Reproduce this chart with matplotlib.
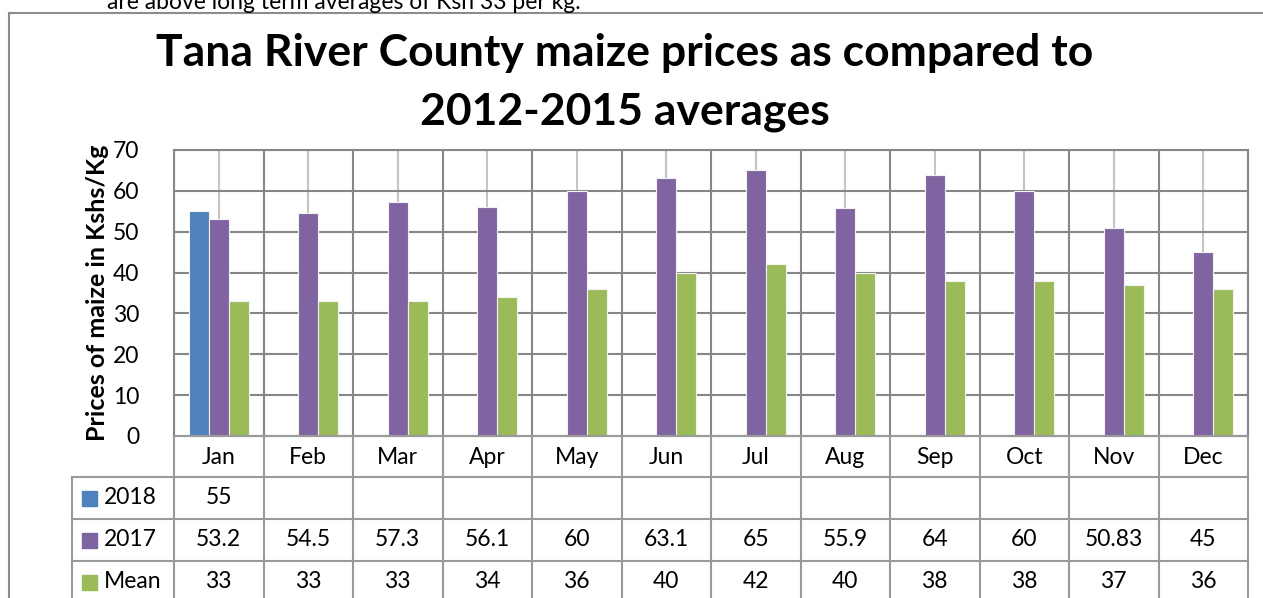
import numpy as np
import matplotlib
matplotlib.use("Agg")
import matplotlib.pyplot as plt
from matplotlib.lines import Line2D
from matplotlib.patches import Rectangle
from matplotlib.transforms import blended_transform_factory

months = ['Jan', 'Feb', 'Mar', 'Apr', 'May', 'Jun', 'Jul', 'Aug', 'Sep', 'Oct', 'Nov', 'Dec']
prices_2018 = [55, None, None, None, None, None, None, None, None, None, None, None]
prices_2017 = [53.2, 54.5, 57.3, 56.1, 60, 63.1, 65, 55.9, 64, 60, 50.83, 45]
prices_mean = [33, 33, 33, 34, 36, 40, 42, 40, 38, 38, 37, 36]
series_names = ['2018', '2017', 'Mean']
colors = ['#4F81BD', '#8064A2', '#9BBB59']

W, H = 1263, 598
plt.rcParams['font.family'] = ['Lato', 'DejaVu Sans']

fig = plt.figure(figsize=(W / 100, H / 100), dpi=100)

def fx(px):
    return px / W

def fy(py):
    return 1 - py / H

# plot area in pixels
left, right, top, bottom = 174, 1248, 150, 436
ax = fig.add_axes([fx(left), fy(bottom), fx(right - left), (bottom - top) / H])

x = np.arange(len(months))
bw = 0.223
series = [prices_2018, prices_2017, prices_mean]
for k, vals in enumerate(series):
    v = np.array([np.nan if a is None else a for a in vals], dtype=float)
    ax.bar(x + (k - 1) * bw, v, width=bw, color=colors[k], edgecolor='#f2f2f2',
           linewidth=0.8, zorder=3)

ax.set_xlim(-0.5, len(months) - 0.5)
ax.set_ylim(0, 70)
ax.set_yticks(range(0, 71, 10))
ax.set_xticks([])
ax.tick_params(axis='y', length=0, pad=25, labelsize=16.5)
for lab in ax.get_yticklabels():
    lab.set_horizontalalignment('right')

grid_dark = '#878787'
grid_light = '#c4c4c4'
for yv in range(10, 71, 10):
    ax.axhline(yv, color=grid_dark, lw=1.5, zorder=1)
for i in range(len(months) + 1):
    ax.axvline(i - 0.5, color=grid_dark, lw=1.5, zorder=1)
for i in range(len(months)):
    ax.axvline(i, color=grid_light, lw=1.5, zorder=0.5)
for s in ax.spines.values():
    s.set_color(grid_dark)
    s.set_linewidth(1.5)

ax.set_ylabel('Prices of maize in Kshs/Kg', fontsize=18, fontweight='bold', labelpad=3)

# data table below the plot
tr = blended_transform_factory(ax.transData, fig.transFigure)
row_edges = [436, 477, 519, 561, 603]
tbl_left = 72
line_kw = dict(color='#9a9a9a', lw=1.5, transform=fig.transFigure, clip_on=False)

# horizontal lines
fig.add_artist(Line2D([fx(left), fx(right)], [fy(row_edges[0])] * 2, **line_kw))
for r in row_edges[1:4]:
    fig.add_artist(Line2D([fx(tbl_left), fx(right)], [fy(r)] * 2, **line_kw))
# vertical lines
fig.add_artist(Line2D([fx(tbl_left)] * 2, [fy(row_edges[1]), 0], **line_kw))
for i in range(len(months) + 1):
    xp = left + i * (right - left) / len(months)
    fig.add_artist(Line2D([fx(xp)] * 2, [fy(row_edges[0]), 0], **line_kw))

fs = 16.5
for i, m in enumerate(months):
    fig.text(i, fy((row_edges[0] + row_edges[1]) / 2 + 1), m, transform=tr,
             ha='center', va='center', fontsize=fs)

def fmt(v):
    if v is None:
        return ''
    return ('%g' % v)

for k, vals in enumerate(series):
    yc = fy((row_edges[k + 1] + row_edges[k + 2]) / 2)
    fig.add_artist(Rectangle((fx(82), yc - 7.5 / H), 15 / W, 15 / H,
                             transform=fig.transFigure, color=colors[k]))
    fig.text(fx(104), yc, series_names[k], ha='left', va='center', fontsize=fs)
    for i, v in enumerate(vals):
        fig.text(i, yc, fmt(v), transform=tr, ha='center', va='center', fontsize=fs)

# title
fig.text(fx(625), fy(53), 'Tana River County maize prices as compared to',
         ha='center', va='center', fontsize=32, fontweight='bold')
fig.text(fx(625), fy(112), '2012-2015 averages',
         ha='center', va='center', fontsize=32, fontweight='bold')

# frame of the chart and cut-off text above it
frame_kw = dict(color='#8c8c8c', lw=1.5, transform=fig.transFigure)
fig.add_artist(Line2D([fx(9), 1], [fy(12.5)] * 2, **frame_kw))
fig.add_artist(Line2D([fx(9)] * 2, [fy(12.5), 0], **frame_kw))
fig.text(fx(107), fy(9), 'are above long term averages of Ksh 33 per kg.',
         ha='left', va='baseline', fontsize=16.5)

fig.savefig('out.png', dpi=100)
